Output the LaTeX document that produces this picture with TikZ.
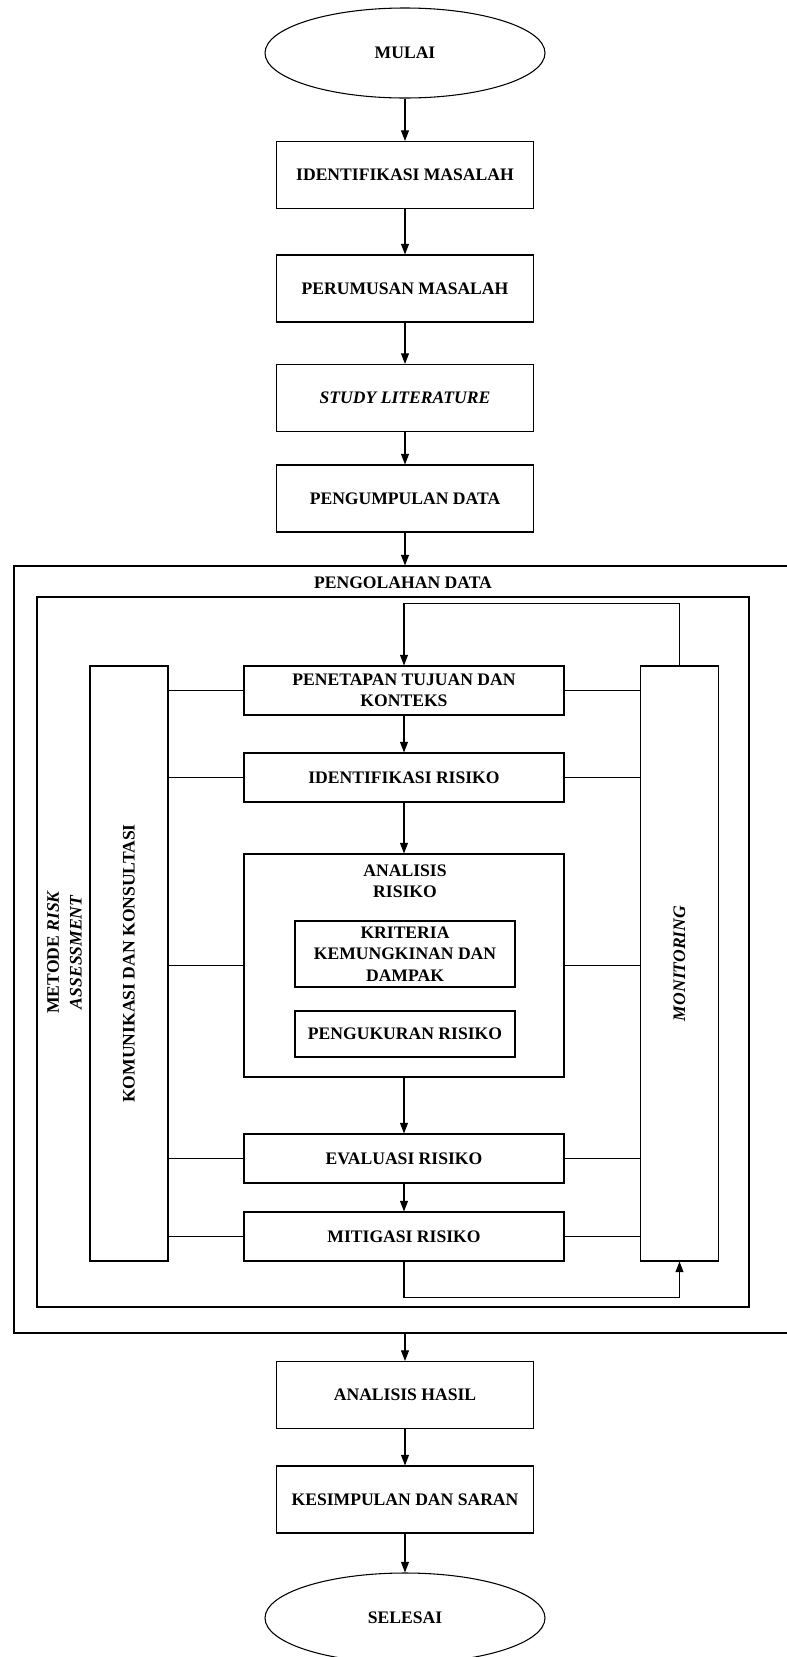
\documentclass[tikz,border=0pt]{standalone}
\usepackage{fontspec}
\setmainfont{Liberation Serif}
\usetikzlibrary{arrows.meta,shapes.geometric}
\begin{document}
\begin{tikzpicture}[x=0.75pt, y=-0.75pt, line width=0.8pt,
  font=\bfseries\fontsize{13.2}{16}\selectfont,
  box/.style={draw, minimum width=192.75pt, minimum height=50.25pt, align=center},
  sub/.style={draw, minimum width=240pt, minimum height=36.75pt, align=center},
  oval/.style={draw, ellipse, minimum width=210pt, minimum height=67.5pt},
  side/.style={draw, minimum width=58.5pt, minimum height=446.25pt},
  arr/.style={-{Triangle[length=8pt,width=6pt]}}]
\useasboundingbox (0,0) rectangle (786,1657);
% alur utama
\node[oval] (mulai) at (405,53) {MULAI};
\node[box] (idm) at (405,175) {IDENTIFIKASI MASALAH};
\node[box] (rum) at (405,288.5) {PERUMUSAN MASALAH};
\node[box] (lit) at (405,398) {\textit{STUDY LITERATURE}};
\node[box] (pgd) at (405,498.5) {PENGUMPULAN DATA};
\node[draw, minimum width=589.5pt, minimum height=575.25pt] (olah) at (407,949.5) {};
\node (judul) at (403,583) {PENGOLAHAN DATA};
\node[draw, minimum width=534pt, minimum height=532.5pt] (metode) at (393,952) {};
\node[rotate=90, align=center, font=\bfseries\fontsize{13.2}{17}\selectfont] (metodetxt) at (64.5,952) {METODE \textit{RISK}\\\textit{ASSESSMENT}};
% risk assessment
\node[side] (kom) at (129,963.5) {};
\node[rotate=90] (komtxt) at (129,963.5) {KOMUNIKASI DAN KONSULTASI};
\node[side] (mon) at (679.5,963.5) {};
\node[rotate=90] (montxt) at (679.5,963.5) {\textit{MONITORING}};
\node[sub] (pen) at (404,690.5) {PENETAPAN TUJUAN DAN\\KONTEKS};
\node[sub] (idr) at (404,777.5) {IDENTIFIKASI RISIKO};
\node[sub, minimum height=167.25pt] (ana) at (404,965.5) {};
\node[align=center] (anatxt) at (405,881) {ANALISIS\\RISIKO};
\node[draw, minimum width=165pt, minimum height=49.5pt, align=center] (krit) at (405,954) {KRITERIA\\KEMUNGKINAN DAN\\DAMPAK};
\node[draw, minimum width=165pt, minimum height=34.5pt] (ukur) at (405,1034) {PENGUKURAN RISIKO};
\node[sub] (eva) at (404,1158.5) {EVALUASI RISIKO};
\node[sub] (mit) at (404,1236.5) {MITIGASI RISIKO};
\node[box] (hasil) at (405,1395) {ANALISIS HASIL};
\node[box] (saran) at (405,1499.5) {KESIMPULAN DAN SARAN};
\node[oval] (selesai) at (405,1618) {SELESAI};
% panah
\draw[arr] (mulai) -- (idm);
\draw[arr] (idm) -- (rum);
\draw[arr] (rum) -- (lit);
\draw[arr] (lit) -- (pgd);
\draw[arr] (pgd) -- (olah.north -| pgd);
\draw[arr] (pen) -- (idr);
\draw[arr] (idr) -- (ana);
\draw[arr] (ana) -- (eva);
\draw[arr] (eva) -- (mit);
\draw[arr] (mon.north) -- ++(0,-62) -| (pen.north);
\draw[arr] (mit.south) -- ++(0,36) -| (mon.south);
\foreach \n in {pen,idr,ana,eva,mit} {
  \draw (kom.east |- \n.west) -- (\n.west);
  \draw (\n.east) -- (mon.west |- \n.east);
}
\draw[arr] (olah.south -| hasil) -- (hasil);
\draw[arr] (hasil) -- (saran);
\draw[arr] (saran) -- (selesai);
\end{tikzpicture}
\end{document}
